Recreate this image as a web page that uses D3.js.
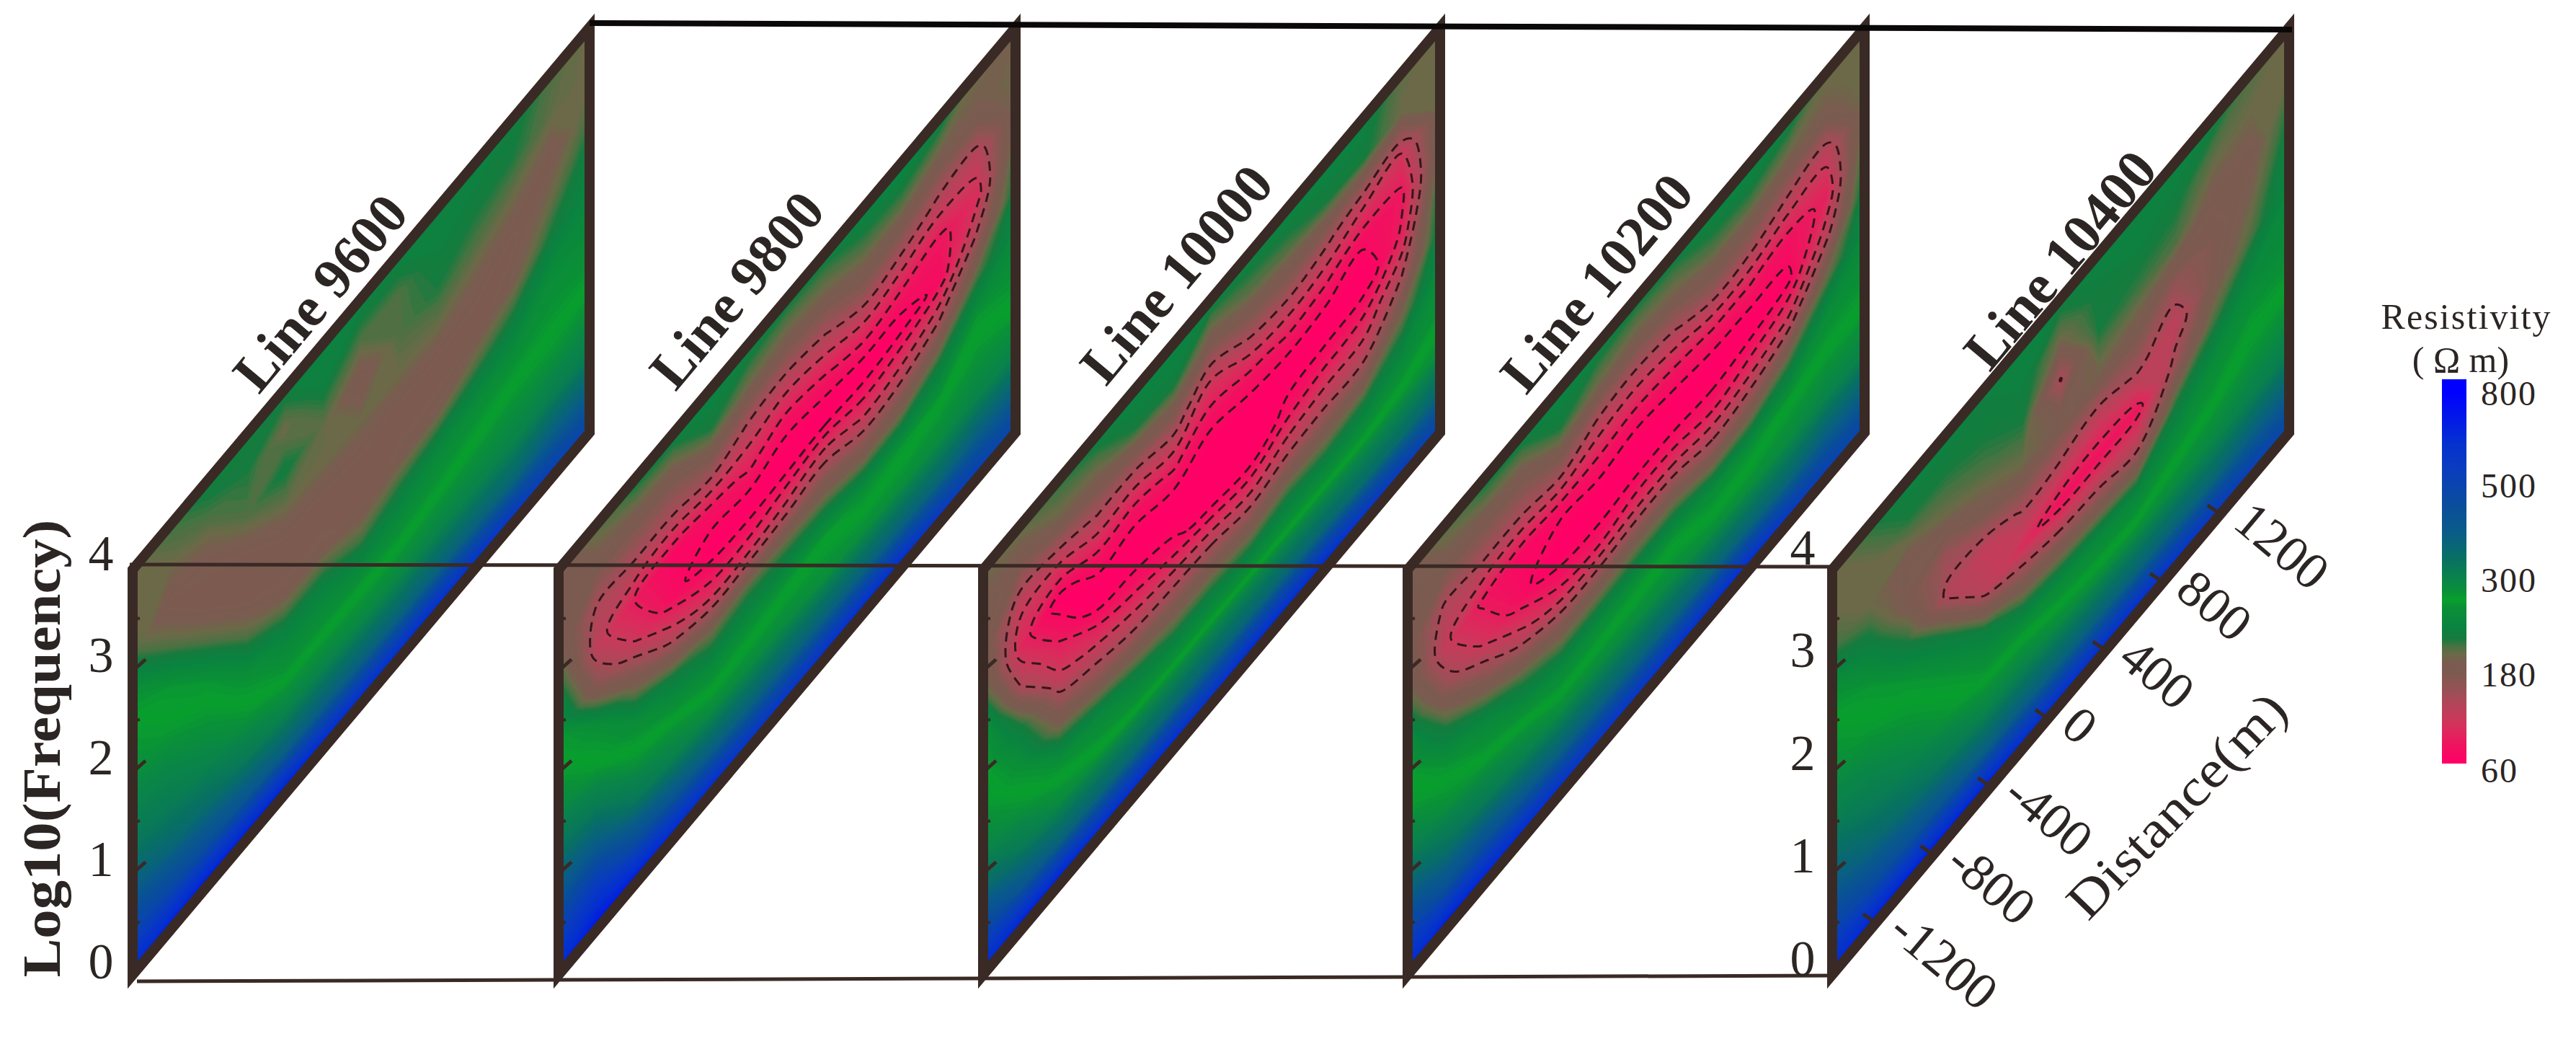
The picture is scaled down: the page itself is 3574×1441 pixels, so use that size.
<!DOCTYPE html>
<html>
<head>
<meta charset="utf-8">
<script src="https://d3js.org/d3.v7.min.js"></script>
<style>
  html, body { margin: 0; padding: 0; background: #fff; }
  text { font-family: "Liberation Serif", serif; fill: #2b2523; }
</style>
</head>
<body>
<div id="chart"></div>
<script>
// resistivity: one list per distance column, log10(f) going 4 -> 0
var line9600 = [
  [205,205,215,265,280,290,310,340,410,520,680],
  [220,205,185,215,270,280,300,325,375,490,720],
  [235,215,190,180,215,270,285,305,355,460,740],
  [230,225,215,185,180,215,265,285,325,430,740],
  [235,205,230,205,180,190,240,270,305,400,740],
  [240,235,210,205,180,190,240,270,305,400,700],
  [240,215,185,205,185,180,220,270,300,395,680],
  [240,215,215,205,180,190,235,270,300,390,680],
  [235,235,225,205,180,195,250,275,305,390,680],
  [240,230,215,195,180,215,260,280,305,390,650],
  [235,225,205,185,195,232,265,285,305,380,620],
  [215,210,190,205,228,260,270,285,315,400,560],
  [205,205,215,235,245,255,270,290,315,400,520]
];
var line9800 = [
  [190,190,200,235,270,280,300,345,420,540,680],
  [215,190,150,135,175,265,280,325,415,580,740],
  [235,190,150,100,125,190,260,285,335,470,740],
  [240,190,150,80,85,140,230,275,310,430,700],
  [245,225,165,90,70,110,205,260,295,400,680],
  [240,205,145,105,65,110,215,265,295,390,640],
  [235,195,140,90,62,125,210,270,295,390,640],
  [235,200,150,100,62,140,205,275,290,390,660],
  [245,215,175,115,65,115,185,265,290,390,680],
  [250,215,165,105,70,125,190,270,290,390,680],
  [240,195,145,95,85,150,225,275,295,380,620],
  [205,195,140,115,155,215,270,285,305,400,560],
  [200,205,200,220,235,250,265,280,305,395,520]
];
var line10000 = [
  [205,195,195,215,275,280,285,305,375,510,680],
  [215,180,130,110,150,230,265,285,325,430,740],
  [225,200,130,70,100,135,195,265,295,390,740],
  [240,200,150,95,62,115,170,250,285,380,700],
  [245,225,150,90,62,100,155,230,280,375,700],
  [245,230,165,105,64,85,150,215,280,375,700],
  [240,190,125,85,62,70,145,215,280,385,660],
  [240,210,155,95,63,62,130,205,280,380,700],
  [245,215,165,105,64,90,145,220,280,380,700],
  [245,225,155,100,62,100,150,215,280,375,700],
  [240,228,135,85,65,105,150,225,280,360,650],
  [210,205,125,95,105,150,205,250,285,360,600],
  [205,205,205,205,235,240,260,270,290,375,540]
];
var line10200 = [
  [195,190,190,205,250,275,285,315,395,530,680],
  [215,190,145,130,165,225,270,290,345,450,740],
  [235,190,150,95,120,180,250,280,325,450,720],
  [240,190,150,80,85,135,215,270,310,420,700],
  [245,225,165,85,65,105,190,255,295,395,660],
  [240,205,140,90,62,100,190,260,295,390,640],
  [235,195,135,85,62,110,195,265,295,385,640],
  [235,200,145,90,62,110,195,270,295,385,660],
  [245,215,170,100,62,100,170,260,290,385,680],
  [250,215,165,100,65,110,180,265,290,385,680],
  [240,200,145,90,75,130,215,275,295,380,620],
  [210,195,135,105,140,205,260,280,305,400,560],
  [205,210,205,225,240,250,265,280,305,395,520]
];
var line10400 = [
  [205,205,220,265,280,290,310,355,415,530,680],
  [225,205,205,235,270,280,300,325,375,480,720],
  [240,225,190,185,225,270,285,305,350,450,740],
  [240,225,205,160,145,230,270,285,325,430,740],
  [235,230,215,190,130,140,235,270,305,400,740],
  [240,235,225,205,155,115,190,265,305,400,700],
  [235,205,148,195,150,90,175,255,295,390,680],
  [240,230,225,200,135,90,165,250,290,390,680],
  [240,235,220,190,155,95,150,245,290,385,680],
  [240,230,215,165,135,160,225,265,295,385,650],
  [235,210,190,180,185,215,255,275,300,380,620],
  [215,205,190,200,215,250,270,285,310,395,560],
  [205,205,225,240,250,255,270,290,315,400,520]
];

var sections = [line9600, line9800, line10000, line10200, line10400];
var sectionNames = ['Line 9600', 'Line 9800', 'Line 10000', 'Line 10200', 'Line 10400'];
var sectionLevels = [[], [150, 125, 100, 80], [150, 125, 100, 80], [150, 125, 100, 80], [150, 105]];

var freqTicks = [0, 1, 2, 3, 4];
var freqMinor = [0.5, 1.5, 2.5, 3.5];
var distTicks = [-1200, -800, -400, 0, 400, 800, 1200];
var barTicks = [800, 500, 300, 180, 60];

var colorValues = [60, 70, 90, 110, 125, 150, 165, 180, 195, 205, 215, 225, 240, 265, 275, 285, 300, 340, 400, 460, 560, 640, 800];
var colorHexes = ['#ff0066', '#ff0066', '#f0125f', '#dc2a5c', '#c83a5a', '#a84a58', '#905454', '#7d5a50', '#7a5c50', '#6a6a48',
  '#4a7242', '#157b3e', '#0a8340', '#0a9036', '#08a02c', '#0a9038', '#0a8548', '#087260', '#0a5c88', '#0a4d9c', '#0a3cc0', '#0530d0', '#0000ff'];

var width = 3574, height = 1441;
var svg = d3.select('#chart').append('svg')
  .attr('width', width).attr('height', height)
  .style('display', 'block');
svg.append('rect').attr('width', width).attr('height', height).attr('fill', '#fff');

var color = d3.scaleLinear().domain(colorValues).range(colorHexes).clamp(true);

// section layout
var frameColor = '#3a2a25';
var leftEdges = [184, 775, 1364, 1953, 2542];
var sectionW = 634, rise = 752, freqTop = 790, freqBottom = 1352;
var yFreq = d3.scaleLinear().domain([0, 4]).range([freqBottom, freqTop]);
var uDist = d3.scaleLinear().domain([-1200, 1200]).range([0.096, 0.85]);

function project(x0, u, f) {
  return [x0 + u * sectionW, yFreq(f) - u * rise];
}

var defs = svg.append('defs');
var levels = d3.range(60, 804, 3);
var isoLine = d3.line().curve(d3.curveCatmullRomClosed.alpha(0.5));

sections.forEach(function(cols, k) {
  var x0 = leftEdges[k];
  var n = cols.length, m = cols[0].length;
  var values = [];
  for (var j = 0; j < m; j++) {
    for (var i = 0; i < n; i++) values.push(cols[i][j]);
  }

  // grid coordinates of d3.contours sit half a cell in from the border
  var uGrid = d3.scaleLinear().domain([0.5, n - 0.5]).range([0, 1]);
  var fGrid = d3.scaleLinear().domain([0.5, m - 0.5]).range([4, 0]);
  function toScreen(c) { return project(x0, uGrid(c[0]), fGrid(c[1])); }
  var path = d3.geoPath(d3.geoTransform({
    point: function(x, y) {
      var p = toScreen([x, y]);
      this.stream.point(p[0], p[1]);
    }
  }));
  var contours = d3.contours().size([n, m]);

  var corners = [project(x0, 0, 4), project(x0, 1, 4), project(x0, 1, 0), project(x0, 0, 0)];
  defs.append('clipPath').attr('id', 'clip' + k)
    .append('polygon').attr('points', corners.join(' '));

  var g = svg.append('g');
  var body = g.append('g').attr('clip-path', 'url(#clip' + k + ')');
  body.append('polygon').attr('points', corners.join(' ')).attr('fill', color(60));

  body.selectAll('path.band')
    .data(contours.thresholds(levels)(values))
    .enter().append('path')
    .attr('class', 'band')
    .attr('d', path)
    .attr('fill', function(d) { return color(d.value); });

  // dashed isolines, rings smoothed so the coarse grid does not show
  var rings = [];
  contours.thresholds(sectionLevels[k])(values).forEach(function(c) {
    c.coordinates.forEach(function(poly) {
      poly.forEach(function(ring) { rings.push(ring.slice(1).map(toScreen)); });
    });
  });
  body.selectAll('path.iso')
    .data(rings)
    .enter().append('path')
    .attr('class', 'iso')
    .attr('d', isoLine)
    .attr('fill', 'none')
    .attr('stroke', '#35161c')
    .attr('stroke-width', 3)
    .attr('stroke-dasharray', '13,9');

  g.append('polygon')
    .attr('points', corners.join(' '))
    .attr('fill', 'none')
    .attr('stroke', frameColor)
    .attr('stroke-width', 14)
    .attr('stroke-linejoin', 'miter');

  // log frequency ticks on the front edge of every section
  g.selectAll('line.major').data([1, 2, 3]).enter().append('line')
    .attr('x1', x0).attr('y1', function(d) { return yFreq(d); })
    .attr('x2', x0 + 18).attr('y2', function(d) { return yFreq(d) - 16; })
    .attr('stroke', frameColor).attr('stroke-width', 5);
  g.selectAll('line.minor').data(freqMinor).enter().append('line')
    .attr('x1', x0).attr('y1', function(d) { return yFreq(d); })
    .attr('x2', x0 + 10).attr('y2', function(d) { return yFreq(d) - 3; })
    .attr('stroke', frameColor).attr('stroke-width', 4);

  svg.append('text')
    .attr('text-anchor', 'middle')
    .attr('dominant-baseline', 'central')
    .attr('transform', 'translate(' + [[444, 406], [1022, 402], [1632, 380], [2215, 392], [2858, 360]][k] + ') rotate(-50)')
    .style('font-size', '78px')
    .style('font-weight', 'bold')
    .text(sectionNames[k]);
});

// box lines
var boxLines = [
  { a: [818, 32], b: [3180, 41], w: 8, c: '#0a0808' },
  { a: [180, 783], b: [2542, 786], w: 5, c: frameColor },
  { a: [190, 1361], b: [2544, 1353], w: 5, c: frameColor }
];
svg.selectAll('line.box').data(boxLines).enter().append('line')
  .attr('class', 'box')
  .attr('x1', function(d) { return d.a[0]; }).attr('y1', function(d) { return d.a[1]; })
  .attr('x2', function(d) { return d.b[0]; }).attr('y2', function(d) { return d.b[1]; })
  .attr('stroke', function(d) { return d.c; })
  .attr('stroke-width', function(d) { return d.w; });

// frequency axis labels
var yLabelLeft = d3.scaleLinear().domain([0, 4]).range([1333, 767]);
var yLabelRight = d3.scaleLinear().domain([0, 4]).range([1329, 759]);
[[140, yLabelLeft], [2501, yLabelRight]].forEach(function(a) {
  svg.selectAll(null).data(freqTicks).enter().append('text')
    .attr('x', a[0]).attr('y', function(d) { return a[1](d); })
    .attr('text-anchor', 'middle')
    .attr('dominant-baseline', 'central')
    .style('font-size', '70px')
    .text(function(d) { return d; });
});

svg.append('text')
  .attr('text-anchor', 'middle')
  .attr('dominant-baseline', 'central')
  .attr('transform', 'translate(58,1038) rotate(-90)')
  .style('font-size', '74px')
  .style('font-weight', 'bold')
  .attr('textLength', 635)
  .attr('lengthAdjust', 'spacingAndGlyphs')
  .text('Log10(Frequency)');

// distance axis on the last section
var x4 = leftEdges[4];
svg.selectAll('line.dist').data(distTicks).enter().append('line')
  .attr('class', 'dist')
  .attr('x1', function(d) { return project(x4, uDist(d), 0)[0]; })
  .attr('y1', function(d) { return project(x4, uDist(d), 0)[1]; })
  .attr('x2', function(d) { return project(x4, uDist(d), 0)[0] - 18; })
  .attr('y2', function(d) { return project(x4, uDist(d), 0)[1] - 12; })
  .attr('stroke', frameColor).attr('stroke-width', 5);
svg.selectAll('text.dist').data(distTicks).enter().append('text')
  .attr('class', 'dist')
  .attr('transform', function(d) {
    var p = project(x4, uDist(d), 0);
    return 'translate(' + (p[0] + 30) + ',' + (p[1] - 2) + ') rotate(40)';
  })
  .attr('dominant-baseline', 'central')
  .style('font-size', '72px')
  .text(function(d) { return d; });

svg.append('text')
  .attr('text-anchor', 'middle')
  .attr('dominant-baseline', 'central')
  .attr('transform', 'translate(3020,1117) rotate(-46)')
  .style('font-size', '72px')
  .attr('textLength', 404)
  .attr('lengthAdjust', 'spacingAndGlyphs')
  .text('Distance(m)');

// colour bar
var barY = d3.scaleLinear().domain([60, 180, 300, 500, 800]).range([1068, 935, 804, 673, 545]);
var barTop = 526, barBottom = 1059;
var grad = defs.append('linearGradient').attr('id', 'barGrad')
  .attr('x1', 0).attr('x2', 0).attr('y1', 0).attr('y2', 1);
grad.selectAll('stop').data(colorValues.slice().reverse()).enter().append('stop')
  .attr('offset', function(d) {
    return Math.max(0, Math.min(1, (barY(d) - barTop) / (barBottom - barTop)));
  })
  .attr('stop-color', function(d) { return color(d); });
svg.append('rect')
  .attr('x', 3388).attr('y', barTop)
  .attr('width', 34).attr('height', barBottom - barTop)
  .attr('fill', 'url(#barGrad)');
svg.selectAll('text.bar').data(barTicks).enter().append('text')
  .attr('class', 'bar')
  .attr('x', 3442)
  .attr('y', function(d) { return barY(d); })
  .attr('dominant-baseline', 'central')
  .style('font-size', '48px')
  .attr('textLength', function(d) { return d === 60 ? 50 : 76; })
  .text(function(d) { return d; });
svg.append('text')
  .attr('x', 3421).attr('y', 439)
  .attr('text-anchor', 'middle').attr('dominant-baseline', 'central')
  .style('font-size', '50px')
  .attr('textLength', 235)
  .text('Resistivity');
svg.append('text')
  .attr('x', 3414).attr('y', 499)
  .attr('text-anchor', 'middle').attr('dominant-baseline', 'central')
  .style('font-size', '50px')
  .text('( \u03a9 m)');
</script>
</body>
</html>
